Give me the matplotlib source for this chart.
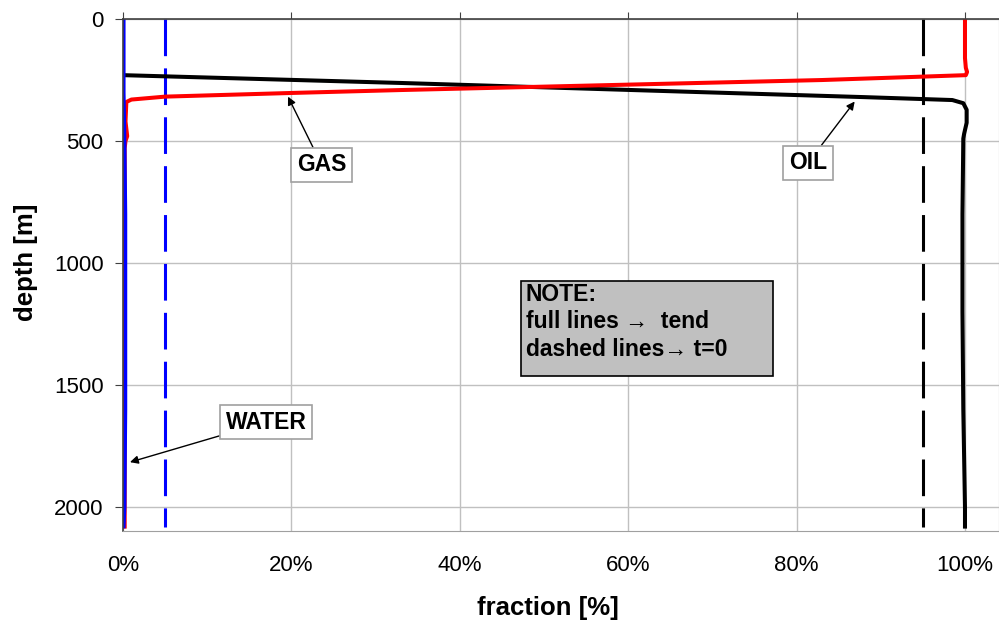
import numpy as np
import matplotlib.pyplot as plt
from matplotlib.ticker import PercentFormatter
from matplotlib.patches import Rectangle

plt.rcParams['font.family'] = ['Liberation Sans', 'DejaVu Sans']

# depth [m] and fraction (0..1)
oil_depth = [0, 230, 262, 300, 320, 332, 345, 372, 425, 470, 490, 800, 1200, 1600, 1800, 2000, 2080]
oil_frac = [0.0, 0.0, 0.33, 0.69, 0.88, 0.985, 0.998, 1.002, 1.002, 0.999, 0.998, 0.997, 0.997, 0.998, 0.999, 1.0, 1.0]

gas_depth = [0, 160, 200, 217, 230, 250, 291, 303, 318, 330, 340, 420, 480, 500, 530, 700, 1200, 2080]
gas_frac = [1.0, 1.0, 1.001, 1.0025, 1.001, 0.83, 0.33, 0.20, 0.05, 0.01, 0.004, 0.003, 0.005, 0.003, 0.002, 0.002, 0.002, 0.002]

water_depth = [0, 300, 500, 800, 1200, 1600, 2000, 2080]
water_frac = [0.001, 0.001, 0.002, 0.003, 0.003, 0.003, 0.002, 0.001]

init_depth = [0, 2080]
water_init = [0.05, 0.05]
oil_init = [0.95, 0.95]

fig = plt.figure(figsize=(9.99, 6.26), dpi=100)
ax = fig.add_axes([0.1231, 0.1518, 0.8769, 0.8178])

ax.grid(True, color="#c0c0c0", lw=1)
ax.set_axisbelow(True)

ax.plot(oil_init, init_depth, color="black", lw=2.2, dashes=(12, 4))
ax.plot(water_init, init_depth, color="#0000ff", lw=2.2, dashes=(12, 4))
ax.plot(oil_frac, oil_depth, color="black", lw=2.9, solid_joinstyle="round")
ax.plot(gas_frac, gas_depth, color="#ff0000", lw=2.9, solid_joinstyle="round")
ax.plot(water_frac, water_depth, color="#0000ff", lw=2.5)

ax.set_xlim(0, 1.0404)
ax.set_ylim(2098, 0)
ax.set_xticks(np.arange(0, 1.01, 0.2))
ax.set_yticks([0, 500, 1000, 1500, 2000])
ax.xaxis.set_major_formatter(PercentFormatter(1.0, decimals=0))

ax.tick_params(axis="x", top=True, bottom=False, labeltop=False, labelbottom=True,
               direction="out", length=5, pad=12, labelsize=16, color="#404040")
ax.tick_params(axis="y", direction="out", length=6, pad=8, labelsize=16, color="#404040")

ax.spines["top"].set_color("#404040")
ax.spines["left"].set_color("#404040")
ax.spines["bottom"].set_color("#a0a0a0")
ax.spines["right"].set_color("#a0a0a0")
ax.spines["left"].set_linewidth(1.2)
ax.spines["top"].set_linewidth(1.2)

ax.set_xlabel("fraction [%]", fontsize=18.5, fontweight="bold")
ax.set_ylabel("depth [m]", fontsize=18.5, fontweight="bold")
ax.xaxis.set_label_coords(0.485, -0.127)
ax.yaxis.set_label_coords(-0.097, 0.525)

box = dict(boxstyle="square,pad=0.25", fc="white", ec="#a0a0a0", lw=1.2)
arrow = dict(arrowstyle="-|>", color="black", lw=1, mutation_scale=12, shrinkA=0, shrinkB=0)

ax.annotate("GAS", xy=(0.196, 318), xytext=(0.236, 598), fontsize=16.5, fontweight="bold",
            ha="center", va="center", bbox=box, arrowprops=arrow)
ax.annotate("OIL", xy=(0.869, 338), xytext=(0.8135, 590), fontsize=16.5, fontweight="bold",
            ha="center", va="center", bbox=box, arrowprops=arrow)
ax.annotate("WATER", xy=(0.0083, 1816), xytext=(0.170, 1652), fontsize=16.5, fontweight="bold",
            ha="center", va="center", bbox=box, arrowprops=arrow)

ax.add_patch(Rectangle((0.4727, 1074), 0.2993, 389, fc="#c0c0c0", ec="black", lw=1.2, zorder=5))
ax.text(0.4786, 1080, "NOTE:\nfull lines \u2192  tend\ndashed lines\u2192 t=0", fontsize=16.5,
        fontweight="bold", ha="left", va="top", linespacing=1.25, zorder=6)

fig.savefig("out.png", dpi=100)
